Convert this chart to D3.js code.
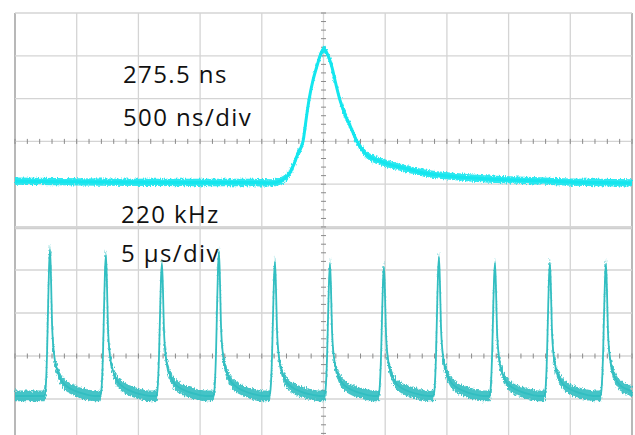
<!DOCTYPE html>
<html>
<head>
<meta charset="utf-8">
<script src="https://cdn.jsdelivr.net/npm/d3@7"></script>
<style>
  html, body { margin: 0; padding: 0; background: #fff; }
  svg { display: block; }
  .lbl { font-family: "Open Sans", sans-serif; font-size: 24px; fill: #111; letter-spacing: 1.4px; }
</style>
</head>
<body>
<div id="scope"></div>
<script>
// top trace: one pulse, 500 ns/div (time in ns, level in divisions)
const pulseTime  = [-2500, -1811, -1001, -596, -417, -353, -312, -271, -239, -207, -166, -142, -118, -85, -53, -20, 4,
                    28, 69, 101, 134, 174, 215, 271, 312, 353, 434, 515, 677, 782, 944, 1187, 1503, 1755, 2006, 2241, 2500];
const pulseLevel = [-0.93, -0.95, -0.96, -0.96, -0.97, -0.93, -0.86, -0.72, -0.53, -0.28, 0, 0.49, 0.96, 1.43, 1.76, 2.06, 2.15,
                    2.06, 1.73, 1.33, 0.96, 0.63, 0.37, 0, -0.19, -0.32, -0.44, -0.52, -0.64, -0.72, -0.79, -0.85, -0.90, -0.92, -0.95, -0.96, -0.97];
const pulseNoise = 0.17;   // peak-to-peak, div

// bottom trace: 220 kHz pulse train, 5 us/div
const trainBase  = -0.93;
const peakTimes  = [-22.16, -17.63, -13.09, -8.47, -3.93, 0.53, 4.90, 9.36, 13.90, 18.35, 22.89];
const peakLevels = [2.47, 2.35, 2.16, 2.42, 2.19, 2.14, 2.07, 2.30, 2.16, 2.16, 2.14];
// shape of one pulse around its peak (us from peak, fraction of height)
const shapeTime  = [-0.45, -0.36, -0.24, -0.16, -0.08, 0, 0.08, 0.16, 0.32, 0.57, 0.89, 1.38, 2.03, 2.84, 3.65];
const shapeFrac  = [0, 0.05, 0.3, 0.6, 0.88, 1, 0.8, 0.5, 0.29, 0.18, 0.11, 0.065, 0.035, 0.012, 0];
const trainNoise = 0.25;

const topLabels = ['275.5 ns', '500 ns/div'];
const botLabels = ['220 kHz', '5 \u00b5s/div'];

const width = 635, height = 435;
const left = 15, right = 632;

const svg = d3.select('#scope').append('svg')
  .attr('width', width)
  .attr('height', height);

// rough edge for the noisy traces
const flt = svg.append('defs').append('filter')
  .attr('id', 'rough')
  .attr('x', '-2%').attr('y', '-10%').attr('width', '104%').attr('height', '120%');
flt.append('feTurbulence')
  .attr('type', 'fractalNoise')
  .attr('baseFrequency', '0.9 0.35')
  .attr('numOctaves', 2)
  .attr('seed', 3)
  .attr('result', 'noise');
flt.append('feDisplacementMap')
  .attr('in', 'SourceGraphic')
  .attr('in2', 'noise')
  .attr('scale', 5)
  .attr('xChannelSelector', 'R')
  .attr('yChannelSelector', 'G');

const xTop = d3.scaleLinear().domain([-2500, 2500]).range([left, right]);
const yTop = d3.scaleLinear().domain([-2, 3]).range([227, 13]);
const xBot = d3.scaleLinear().domain([-25, 25]).range([left, right]);
const yBot = d3.scaleLinear().domain([-2, 3]).range([442, 227]);

function drawGrid(g, x, y, xStep) {
  const xs = d3.range(-5, 6).map(d => d * xStep);
  const ys = d3.range(-2, 4);
  const [y0, y1] = y.range();
  g.selectAll('.vg').data(xs).enter().append('line')
    .attr('x1', d => x(d)).attr('x2', d => x(d))
    .attr('y1', y0).attr('y2', y1)
    .attr('stroke', (d, i) => (i === 0 || i === 10) ? '#b8b8b8' : '#d4d4d4')
    .attr('stroke-width', (d, i) => (i === 0 || i === 10) ? 2 : 1.3);
  g.selectAll('.hg').data(ys).enter().append('line')
    .attr('x1', left).attr('x2', right)
    .attr('y1', d => y(d)).attr('y2', d => y(d))
    .attr('stroke', '#d4d4d4')
    .attr('stroke-width', 1.3);

  // minor ticks on the centre axes
  const minorX = d3.range(-25, 26).map(d => d * xStep / 5);
  g.selectAll('.mx').data(minorX).enter().append('line')
    .attr('x1', d => x(d)).attr('x2', d => x(d))
    .attr('y1', y(0) - 2.5).attr('y2', y(0) + 2.5)
    .attr('stroke', '#8a8a8a').attr('stroke-width', 1);
  const minorY = d3.range(-10, 16).map(d => d / 5);
  g.selectAll('.my').data(minorY).enter().append('line')
    .attr('x1', x(0) - 2.5).attr('x2', x(0) + 2.5)
    .attr('y1', d => y(d)).attr('y2', d => y(d))
    .attr('stroke', '#8a8a8a').attr('stroke-width', 1);
}

const topPanel = svg.append('g');
drawGrid(topPanel, xTop, yTop, 500);
const botPanel = svg.append('g');
drawGrid(botPanel, xBot, yBot, 5);
svg.append('line')
  .attr('x1', left).attr('x2', right).attr('y1', 228.5).attr('y2', 228.5)
  .attr('stroke', '#cfcfcf').attr('stroke-width', 1.3);

// labels
topPanel.selectAll('.lbl').data(topLabels).enter().append('text')
  .attr('class', 'lbl')
  .attr('x', 123)
  .attr('y', (d, i) => 83 + i * 43)
  .text(d => d);
botPanel.selectAll('.lbl').data(botLabels).enter().append('text')
  .attr('class', 'lbl')
  .attr('x', 121)
  .attr('y', (d, i) => 223 + i * 39)
  .text(d => d);

// traces
function drawTrace(g, pts, x, y, noise, color, lw) {
  g.append('path').datum(pts)
    .attr('fill', color)
    .attr('fill-opacity', 0.9)
    .attr('filter', 'url(#rough)')
    .attr('d', d3.area().curve(d3.curveMonotoneX)
      .x(d => x(d[0])).y0(d => y(d[1] - noise / 2)).y1(d => y(d[1] + noise / 2)));
  g.append('path').datum(pts)
    .attr('fill', 'none')
    .attr('stroke', color)
    .attr('stroke-width', lw)
    .attr('stroke-linejoin', 'round')
    .attr('d', d3.line().curve(d3.curveMonotoneX).x(d => x(d[0])).y(d => y(d[1])));
}

const pulsePts = pulseTime.map((t, i) => [t, pulseLevel[i]]);
drawTrace(topPanel, pulsePts, xTop, yTop, pulseNoise, '#14e6ee', 3);

const trainPts = [[-25, trainBase]];
peakTimes.forEach((p, i) => {
  shapeTime.forEach((s, j) => {
    trainPts.push([p + s, trainBase + shapeFrac[j] * (peakLevels[i] - trainBase)]);
  });
});
trainPts.push([25, trainBase]);
const clipped = trainPts.filter(d => d[0] >= -25 && d[0] <= 25);
drawTrace(botPanel, clipped, xBot, yBot, trainNoise, '#32bec1', 1.8);
</script>
</body>
</html>
